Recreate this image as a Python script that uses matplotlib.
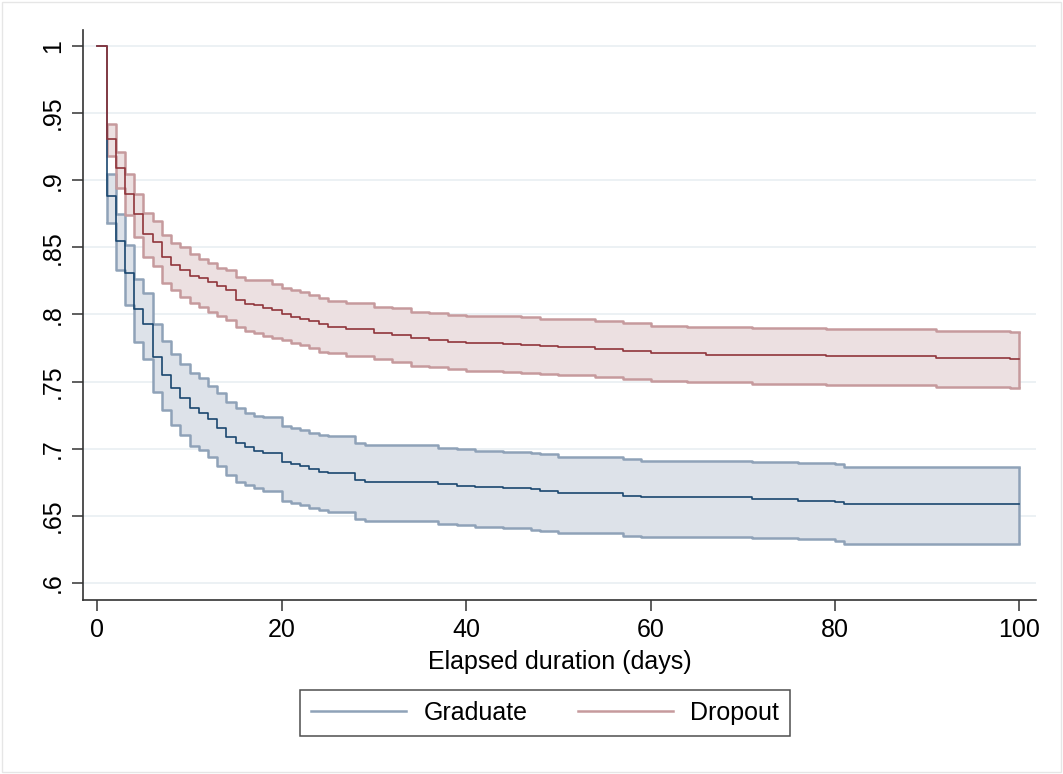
import matplotlib
matplotlib.use("Agg")
import matplotlib.pyplot as plt
from matplotlib.patches import Rectangle
from matplotlib.lines import Line2D

plt.rcParams['font.family'] = ['Liberation Sans', 'DejaVu Sans']

# ---------------- data ----------------
grad_days = [0, 1, 2, 3, 4, 5, 6, 7, 8, 9, 10, 11, 12, 13, 14, 15, 16, 17, 18,
             20, 21, 22, 23, 24, 25,
             28, 29, 37, 39, 41, 44, 47, 48, 50, 57, 59, 71, 76, 80, 81, 100]
grad_surv = [1.0, 0.888, 0.855, 0.831, 0.804, 0.793, 0.7685, 0.755, 0.745, 0.7375,
             0.7305, 0.7263, 0.7218, 0.7151, 0.7089, 0.704, 0.701, 0.6984, 0.6967,
             0.6902, 0.689, 0.6874, 0.6847, 0.6829, 0.682,
             0.6766, 0.6753, 0.6734, 0.6724, 0.6716, 0.6709, 0.6699, 0.6686, 0.6667,
             0.6647, 0.6637, 0.6624, 0.6614, 0.6602, 0.6585, 0.6585]
grad_upper = [0.905, 0.8745, 0.8517, 0.8265, 0.8157, 0.793, 0.7804, 0.7705, 0.7632,
              0.7566, 0.7524, 0.747, 0.7415, 0.735, 0.730, 0.7265, 0.7247, 0.7238,
              0.7168, 0.7153, 0.7136, 0.7117, 0.7101, 0.7092,
              0.704, 0.7027, 0.7007, 0.6995, 0.6984, 0.6977, 0.6968, 0.6958, 0.694,
              0.692, 0.6912, 0.690, 0.6893, 0.6885, 0.6863, 0.6863]
grad_lower = [0.868, 0.8331, 0.807, 0.7797, 0.7666, 0.7424, 0.729, 0.7176, 0.7105,
              0.7022, 0.6987, 0.694, 0.687, 0.6807, 0.6752, 0.6728, 0.6704, 0.6683,
              0.6614, 0.6597, 0.6584, 0.6557, 0.6542, 0.6532,
              0.6473, 0.646, 0.6443, 0.6431, 0.6418, 0.6413, 0.6398, 0.6388, 0.6373,
              0.6349, 0.6344, 0.6334, 0.6324, 0.6311, 0.6289, 0.6289]

drop_days = [0, 1, 2, 3, 4, 5, 6, 7, 8, 9, 10, 11, 12, 13, 14, 15, 16, 17, 18, 19,
             20, 21, 22, 23, 24, 25,
             27, 30, 32, 34, 36, 38, 40, 44, 46, 48, 50, 54, 57, 60, 64, 66, 71,
             79, 91, 99, 100]
drop_surv = [1.0, 0.931, 0.909, 0.890, 0.875, 0.860, 0.854, 0.843, 0.837, 0.833,
             0.829, 0.827, 0.824, 0.821, 0.818, 0.811, 0.808, 0.807, 0.805, 0.803,
             0.8005, 0.7985, 0.797, 0.795, 0.793, 0.791,
             0.789, 0.7864, 0.7847, 0.7822, 0.7809, 0.7797, 0.7789, 0.7779, 0.7772,
             0.7764, 0.7755, 0.774, 0.7727, 0.7715, 0.771, 0.770, 0.7695, 0.7688,
             0.7677, 0.767, 0.767]
drop_upper = [0.942, 0.921, 0.9045, 0.8897, 0.8755, 0.8695, 0.8592, 0.853, 0.850,
              0.845, 0.841, 0.838, 0.835, 0.833, 0.828, 0.8256, 0.8256, 0.8256,
              0.8227, 0.820, 0.818, 0.817, 0.8145, 0.8125, 0.810,
              0.8082, 0.8057, 0.8045, 0.802, 0.8008, 0.7996, 0.7988, 0.7988, 0.7978,
              0.7966, 0.7966, 0.7953, 0.7933, 0.7914, 0.7904, 0.7904, 0.7896, 0.7889,
              0.7876, 0.7869, 0.7869]
drop_lower = [0.9177, 0.894, 0.8741, 0.8579, 0.843, 0.8358, 0.8238, 0.8182, 0.8132,
              0.8088, 0.8057, 0.802, 0.7988, 0.7958, 0.7908, 0.788, 0.786, 0.784,
              0.7825, 0.7809, 0.7789, 0.7772, 0.7747, 0.7722, 0.771,
              0.769, 0.7665, 0.7648, 0.7615, 0.7606, 0.7593, 0.7581, 0.7573, 0.7566,
              0.7556, 0.7548, 0.7536, 0.7516, 0.7501, 0.7496, 0.7496, 0.7486, 0.7476,
              0.7461, 0.7454, 0.7454]

series_labels = ['Graduate', 'Dropout']
x_ticks = [0, 20, 40, 60, 80, 100]
y_ticks = [0.6, 0.65, 0.7, 0.75, 0.8, 0.85, 0.9, 0.95, 1.0]
y_tick_labels = ['.6', '.65', '.7', '.75', '.8', '.85', '.9', '.95', '1']
x_label = 'Elapsed duration (days)'

# ---------------- style ----------------
W, H = 1063, 774
fig = plt.figure(figsize=(W / 100, H / 100), dpi=100)
fig.patch.set_facecolor('white')
ax = fig.add_axes([83 / W, (H - 600) / H, (1036 - 83) / W, (600 - 30) / H])

navy = '#1a476f'
maroon = '#90353b'
navy_ci = '#8fa2b8'
maroon_ci = '#c69a9d'
navy_fill = '#dde2e9'
maroon_fill = '#ece0e1'

# CI areas
ax.fill_between(grad_days[1:], grad_lower, grad_upper, step='post',
                color=navy_fill, lw=0, zorder=2)
ax.fill_between(drop_days[1:], drop_lower, drop_upper, step='post',
                color=maroon_fill, lw=0, zorder=2.1)
for arr in (grad_upper, grad_lower):
    ax.step(grad_days[1:], arr, where='post', color=navy_ci, lw=1.8, zorder=3)
for arr in (drop_upper, drop_lower):
    ax.step(drop_days[1:], arr, where='post', color=maroon_ci, lw=1.8, zorder=3.1)
# close ends of CI bands (vertical edges)
ax.vlines([grad_days[1], grad_days[-1]], [grad_lower[0], grad_lower[-1]],
          [grad_upper[0], grad_upper[-1]], color=navy_ci, lw=1.8, zorder=3)
ax.vlines([drop_days[1], drop_days[-1]], [drop_lower[0], drop_lower[-1]],
          [drop_upper[0], drop_upper[-1]], color=maroon_ci, lw=1.8, zorder=3.1)

# survival lines
ax.step(grad_days, grad_surv, where='post', color=navy, lw=1.2, zorder=4)
ax.step(drop_days, drop_surv, where='post', color=maroon, lw=1.2, zorder=4.1)

# axes
ax.set_xlim((83 - 97.3) / 9.22, (1036 - 97.3) / 9.22)
ax.set_ylim(0.6 - 17 / 1342, 1 + 16 / 1342)
ax.set_xticks(x_ticks)
ax.set_xticklabels([str(v) for v in x_ticks], fontsize=18)
ax.set_yticks(y_ticks)
ax.set_yticklabels(y_tick_labels, fontsize=18, rotation=90, va='center')
ax.tick_params(axis='both', direction='out', length=8, width=1.1, color='#333333',
               pad=5)
ax.grid(axis='y', color='#eaf0f3', lw=1.3, zorder=0)
ax.set_axisbelow(True)
for s in ('top', 'right'):
    ax.spines[s].set_visible(False)
for s in ('left', 'bottom'):
    ax.spines[s].set_color('#333333')
    ax.spines[s].set_linewidth(1.2)
ax.set_xlabel(x_label, fontsize=18, labelpad=6)

handles = [Line2D([], [], color=navy_ci, lw=1.8),
           Line2D([], [], color=maroon_ci, lw=1.8)]
leg = fig.legend(handles, series_labels, loc='center',
                 bbox_to_anchor=(545 / W, 1 - 713 / H), ncol=2, fontsize=18,
                 frameon=True, fancybox=False, edgecolor='#222222',
                 handlelength=3.8, handletextpad=0.7, columnspacing=2.0,
                 borderpad=0.45, borderaxespad=0)
leg.get_frame().set_linewidth(1.1)

fig.patches.append(Rectangle((0.002, 0.002), 0.996, 0.996, transform=fig.transFigure,
                             fill=False, edgecolor='#e6e6e6', lw=1))

fig.savefig('out.png', dpi=100, facecolor='white')
